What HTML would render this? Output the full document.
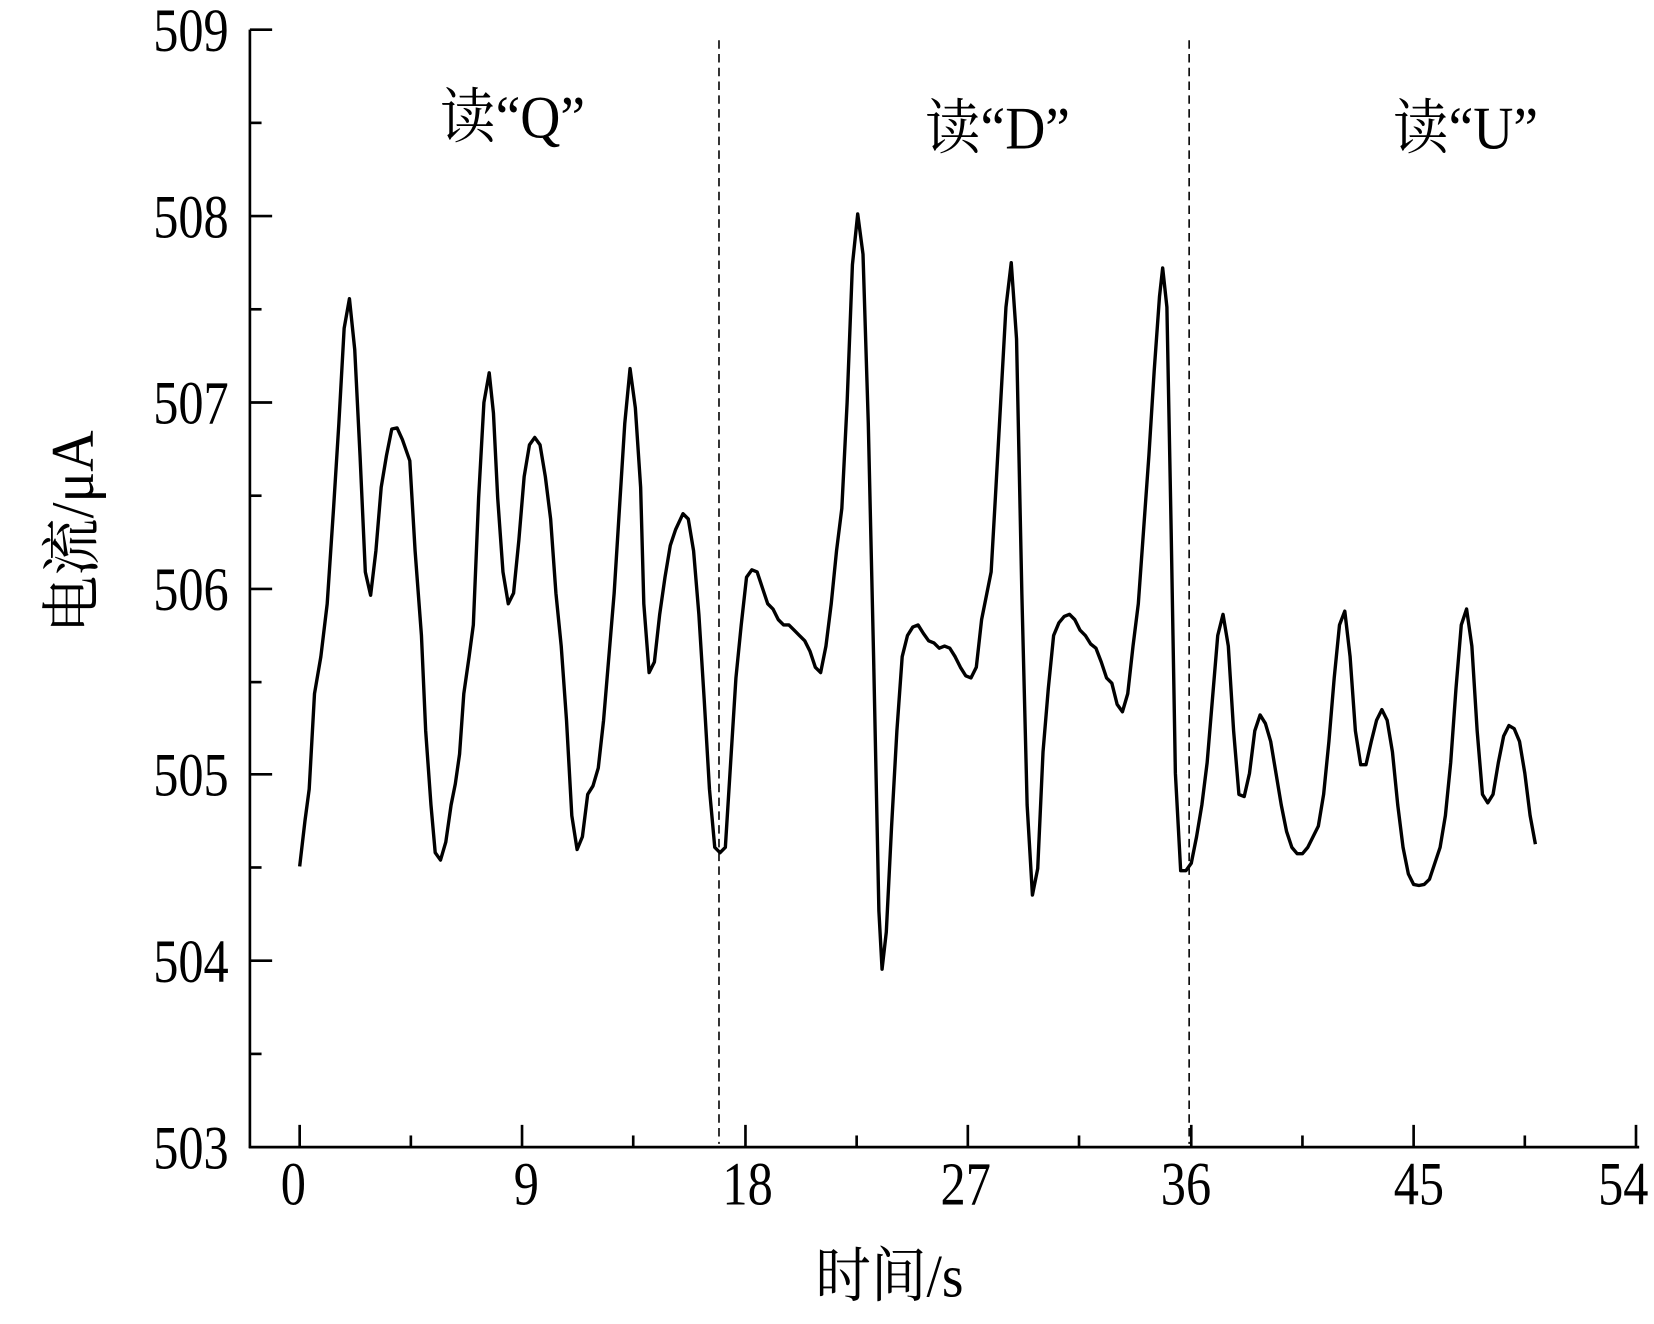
<!DOCTYPE html>
<html><head><meta charset="utf-8"><style>
html,body{margin:0;padding:0;background:#fff;}
svg{display:block;}
text{font-family:"Liberation Serif","Noto Serif CJK SC","Noto Sans CJK SC",serif;fill:#000;}
</style></head><body>
<svg width="1654" height="1324" viewBox="0 0 1562 1250" preserveAspectRatio="none" xmlns="http://www.w3.org/2000/svg">
<g stroke="#000" stroke-width="2.5" fill="none">
<line x1="236" y1="28" x2="236" y2="1084"/>
<line x1="235" y1="1083" x2="1548" y2="1083"/>
<line x1="236" y1="28" x2="257" y2="28"/>
<line x1="236" y1="116" x2="247" y2="116"/>
<line x1="236" y1="204" x2="257" y2="204"/>
<line x1="236" y1="292" x2="247" y2="292"/>
<line x1="236" y1="380" x2="257" y2="380"/>
<line x1="236" y1="468" x2="247" y2="468"/>
<line x1="236" y1="556" x2="257" y2="556"/>
<line x1="236" y1="644" x2="247" y2="644"/>
<line x1="236" y1="731" x2="257" y2="731"/>
<line x1="236" y1="819" x2="247" y2="819"/>
<line x1="236" y1="907" x2="257" y2="907"/>
<line x1="236" y1="995" x2="247" y2="995"/>
<line x1="283" y1="1083" x2="283" y2="1062"/>
<line x1="388" y1="1083" x2="388" y2="1072"/>
<line x1="493" y1="1083" x2="493" y2="1062"/>
<line x1="598" y1="1083" x2="598" y2="1072"/>
<line x1="704" y1="1083" x2="704" y2="1062"/>
<line x1="809" y1="1083" x2="809" y2="1072"/>
<line x1="914" y1="1083" x2="914" y2="1062"/>
<line x1="1019" y1="1083" x2="1019" y2="1072"/>
<line x1="1125" y1="1083" x2="1125" y2="1062"/>
<line x1="1230" y1="1083" x2="1230" y2="1072"/>
<line x1="1335" y1="1083" x2="1335" y2="1062"/>
<line x1="1440" y1="1083" x2="1440" y2="1072"/>
<line x1="1545" y1="1083" x2="1545" y2="1062"/>
</g>
<g stroke="#000" stroke-width="1.5" stroke-dasharray="8,5">
<line x1="679" y1="38" x2="679" y2="1080"/>
<line x1="1123" y1="38" x2="1123" y2="1080"/>
</g>
<polyline fill="none" stroke="#000" stroke-width="3.2" stroke-linejoin="round" points="283,818 288,775 292,745 297,655 303,620 309,570 315,480 320,400 325,310 330,282 335,330 340,430 345,540 350,562 355,520 360,460 365,430 370,405 375,404 380,415 387,435 392,520 398,600 402,690 407,760 411,805 416,812 421,795 426,760 430,740 434,712 438,655 443,620 447,590 452,470 457,380 462,352 466,390 470,470 475,540 480,570 485,560 490,510 495,450 500,420 505,413 510,420 515,450 520,490 525,560 530,610 535,680 540,770 545,802 550,790 555,750 560,742 565,725 570,680 575,620 580,560 585,480 590,400 595,348 600,385 605,460 608,570 613,635 618,625 623,580 628,545 633,515 638,500 645,485 650,490 655,520 660,580 665,660 670,745 675,800 680,805 685,800 690,720 695,640 700,590 705,545 710,538 715,540 720,555 725,570 730,575 735,585 740,590 745,590 750,595 755,600 760,605 765,615 770,630 775,635 780,610 785,570 790,520 795,480 800,380 805,250 810,202 815,240 820,400 825,620 830,860 833,915 837,880 842,780 847,690 852,620 857,600 862,592 867,590 872,598 877,605 882,607 887,612 892,610 897,612 902,620 907,630 912,638 917,640 922,630 927,585 932,560 936,540 940,470 945,380 950,290 955,248 960,320 965,560 970,760 975,845 980,820 985,710 990,650 995,600 1000,588 1005,582 1010,580 1015,585 1020,595 1025,600 1030,608 1035,612 1040,625 1045,640 1050,645 1055,665 1060,672 1065,655 1070,610 1075,570 1080,500 1085,430 1090,350 1095,280 1098,253 1102,290 1106,500 1110,730 1115,822 1120,822 1125,815 1130,790 1135,760 1140,720 1145,660 1150,600 1155,580 1160,610 1165,690 1170,750 1175,752 1180,730 1185,690 1190,675 1195,683 1200,700 1205,730 1210,760 1215,785 1220,800 1225,806 1230,806 1235,800 1240,790 1245,780 1250,750 1255,700 1260,640 1265,590 1270,577 1275,620 1280,690 1285,722 1290,722 1295,700 1300,680 1305,670 1310,680 1315,710 1320,760 1325,800 1330,825 1335,835 1340,836 1345,835 1350,830 1355,815 1360,800 1365,770 1370,720 1375,650 1380,590 1385,575 1390,610 1395,690 1400,750 1405,758 1410,750 1415,720 1420,695 1425,685 1430,688 1435,700 1440,730 1445,770 1450,797"/>
<g font-size="58" text-anchor="end">
<text transform="translate(216,48) scale(0.82,1)">509</text>
<text transform="translate(216,224) scale(0.82,1)">508</text>
<text transform="translate(216,400) scale(0.82,1)">507</text>
<text transform="translate(216,576) scale(0.82,1)">506</text>
<text transform="translate(216,751) scale(0.82,1)">505</text>
<text transform="translate(216,927) scale(0.82,1)">504</text>
<text transform="translate(216,1103) scale(0.82,1)">503</text>
</g>
<g font-size="58" text-anchor="middle">
<text transform="translate(277,1137) scale(0.82,1)">0</text>
<text transform="translate(497,1137) scale(0.82,1)">9</text>
<text transform="translate(706,1137) scale(0.82,1)">18</text>
<text transform="translate(912,1137) scale(0.82,1)">27</text>
<text transform="translate(1120,1137) scale(0.82,1)">36</text>
<text transform="translate(1340,1137) scale(0.82,1)">45</text>
<text transform="translate(1533,1137) scale(0.82,1)">54</text>
</g>
<g font-size="57" text-anchor="middle">
<text transform="translate(484,130) scale(0.92,1)">读“Q”</text>
<text transform="translate(942,140) scale(0.92,1)">读“D”</text>
<text transform="translate(1384,140) scale(0.92,1)">读“U”</text>
<text transform="translate(840,1224) scale(0.92,1)">时间/s</text>
<text transform="translate(88,502) rotate(-90) scale(0.95,1)">电流/μA</text>
</g>
</svg>
</body></html>
